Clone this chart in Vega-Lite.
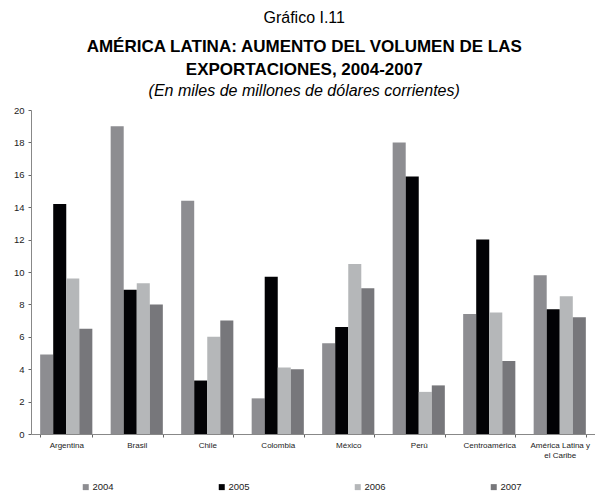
{
  "$schema": "https://vega.github.io/schema/vega-lite/v6.json",
  "background": "white",
  "padding": {"left": 13, "top": 10, "right": 0, "bottom": 0},
  "title": {
    "text": "Gráfico I.11",
    "subtitle": ["AMÉRICA LATINA: AUMENTO DEL VOLUMEN DE LAS", "EXPORTACIONES, 2004-2007"],
    "font": "Liberation Sans",
    "fontSize": 16,
    "fontWeight": "normal",
    "color": "black",
    "subtitleFont": "Liberation Sans",
    "subtitleFontSize": 17,
    "subtitleFontWeight": "bold",
    "subtitleColor": "black",
    "subtitleLineHeight": 23,
    "subtitlePadding": 13,
    "anchor": "middle",
    "frame": "bounds",
    "offset": 5
  },
  "vconcat": [
    {
      "width": 564,
      "height": 324,
      "title": {
        "text": "(En miles de millones de dólares corrientes)",
        "font": "Liberation Sans",
        "fontSize": 16,
        "fontStyle": "italic",
        "fontWeight": "normal",
        "color": "black",
        "anchor": "middle",
        "frame": "bounds",
        "offset": 6
      },
      "data": {
        "values": [
          {"pais": "Argentina", "anio": "2004", "valor": 4.9},
          {"pais": "Argentina", "anio": "2005", "valor": 14.2},
          {"pais": "Argentina", "anio": "2006", "valor": 9.6},
          {"pais": "Argentina", "anio": "2007", "valor": 6.5},
          {"pais": "Brasil", "anio": "2004", "valor": 19.0},
          {"pais": "Brasil", "anio": "2005", "valor": 8.9},
          {"pais": "Brasil", "anio": "2006", "valor": 9.3},
          {"pais": "Brasil", "anio": "2007", "valor": 8.0},
          {"pais": "Chile", "anio": "2004", "valor": 14.4},
          {"pais": "Chile", "anio": "2005", "valor": 3.3},
          {"pais": "Chile", "anio": "2006", "valor": 6.0},
          {"pais": "Chile", "anio": "2007", "valor": 7.0},
          {"pais": "Colombia", "anio": "2004", "valor": 2.2},
          {"pais": "Colombia", "anio": "2005", "valor": 9.7},
          {"pais": "Colombia", "anio": "2006", "valor": 4.1},
          {"pais": "Colombia", "anio": "2007", "valor": 4.0},
          {"pais": "México", "anio": "2004", "valor": 5.6},
          {"pais": "México", "anio": "2005", "valor": 6.6},
          {"pais": "México", "anio": "2006", "valor": 10.5},
          {"pais": "México", "anio": "2007", "valor": 9.0},
          {"pais": "Perú", "anio": "2004", "valor": 18.0},
          {"pais": "Perú", "anio": "2005", "valor": 15.9},
          {"pais": "Perú", "anio": "2006", "valor": 2.6},
          {"pais": "Perú", "anio": "2007", "valor": 3.0},
          {"pais": "Centroamérica", "anio": "2004", "valor": 7.4},
          {"pais": "Centroamérica", "anio": "2005", "valor": 12.0},
          {"pais": "Centroamérica", "anio": "2006", "valor": 7.5},
          {"pais": "Centroamérica", "anio": "2007", "valor": 4.5},
          {"pais": "América Latina y el Caribe", "anio": "2004", "valor": 9.8},
          {"pais": "América Latina y el Caribe", "anio": "2005", "valor": 7.7},
          {"pais": "América Latina y el Caribe", "anio": "2006", "valor": 8.5},
          {"pais": "América Latina y el Caribe", "anio": "2007", "valor": 7.2}
        ]
      },
      "mark": {"type": "bar"},
      "encoding": {
        "x": {
          "field": "pais",
          "type": "nominal",
          "sort": ["Argentina", "Brasil", "Chile", "Colombia", "México", "Perú", "Centroamérica", "América Latina y el Caribe"],
          "scale": {"paddingInner": 0.26, "paddingOuter": 0.13},
          "axis": {
            "title": null,
            "labelAngle": 0,
            "labelFont": "Liberation Sans",
            "labelFontSize": 8,
            "labelColor": "#222222",
            "labelPadding": 4,
            "labelLimit": 200,
            "labelExpr": "datum.value == 'América Latina y el Caribe' ? ['América Latina y', 'el Caribe'] : datum.value",
            "tickBand": "extent",
            "tickSize": 3,
            "tickColor": "#666666",
            "domainColor": "#888888"
          }
        },
        "xOffset": {"field": "anio", "type": "nominal", "sort": ["2004", "2005", "2006", "2007"]},
        "y": {
          "field": "valor",
          "type": "quantitative",
          "scale": {"domain": [0, 20], "nice": false},
          "axis": {
            "title": null,
            "grid": false,
            "values": [0, 2, 4, 6, 8, 10, 12, 14, 16, 18, 20],
            "labelFont": "Liberation Sans",
            "labelFontSize": 9.5,
            "labelColor": "#222222",
            "labelPadding": 4,
            "tickSize": 3,
            "tickColor": "#666666",
            "domainColor": "#888888"
          }
        },
        "color": {
          "field": "anio",
          "type": "nominal",
          "scale": {"domain": ["2004", "2005", "2006", "2007"], "range": ["#8d8d91", "#020205", "#b5b7b9", "#77777b"]},
          "legend": {
            "title": null,
            "orient": "none",
            "legendX": 50,
            "legendY": 372,
            "direction": "horizontal",
            "symbolType": "square",
            "symbolSize": 36,
            "symbolStrokeWidth": 0,
            "labelFont": "Liberation Sans",
            "labelFontSize": 9.5,
            "labelColor": "#222222",
            "labelOffset": 2,
            "columnPadding": 103
          }
        }
      }
    }
  ],
  "config": {"view": {"stroke": null}, "concat": {"spacing": 0}}
}
